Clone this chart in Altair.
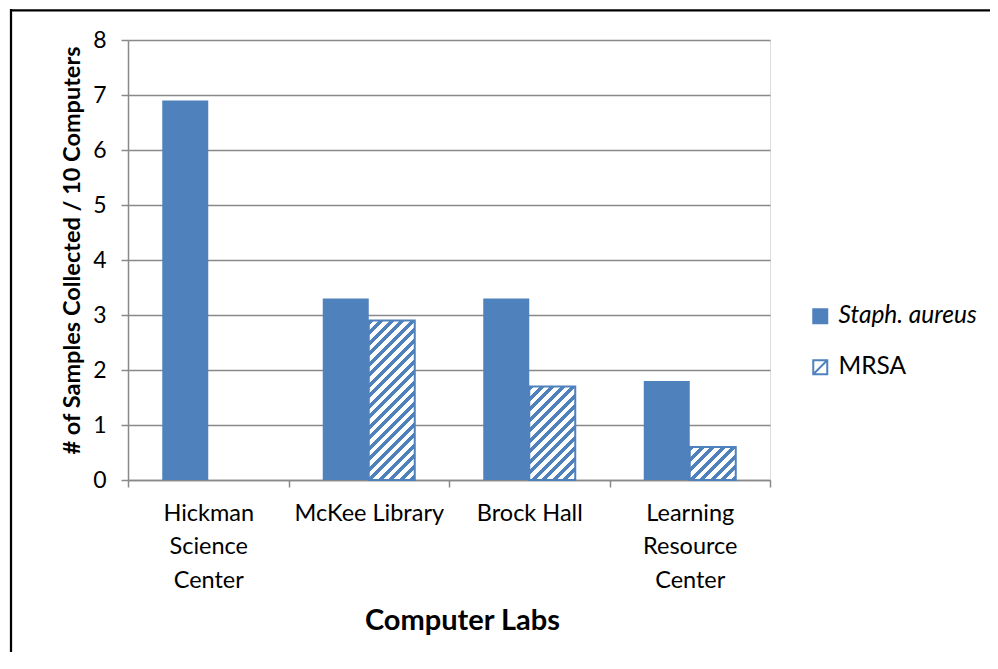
import altair as alt
import pandas as pd

labs = ["Hickman Science Center", "McKee Library", "Brock Hall", "Learning Resource Center"]
series = ["Staph. aureus", "MRSA"]
staph = [6.9, 3.3, 3.3, 1.8]
mrsa = [0.0, 2.9, 1.7, 0.6]
y_ticks = [0, 1, 2, 3, 4, 5, 6, 7, 8]

rows = []
for lab, s, m in zip(labs, staph, mrsa):
    rows.append({"lab": lab, "series": series[0], "value": s})
    rows.append({"lab": lab, "series": series[1], "value": m})
df = pd.DataFrame(rows)

W, H = 642, 440
YMAX = 8
BAR_W = 46
step = W / len(labs)
po = (step / BAR_W - 2) / 2
BLUE = "#4F81BD"
GRAY = "#898989"
PERIOD = 10.5
FONT = "Lato"


def hatch(value):
    w = BAR_W
    h = value / YMAX * H
    L = w + h
    k = w * L / (w * w + h * h)
    half = PERIOD / 2
    stops = []
    j = 0
    while j * half < L:
        c = BLUE if j % 2 == 0 else "white"
        a = j * half / L
        b = min((j + 1) * half / L, 1)
        stops += [{"offset": a, "color": c}, {"offset": b, "color": c}]
        j += 1
    return {"gradient": "linear", "x1": 0, "y1": 0, "x2": k, "y2": k * h / w, "stops": stops}


x_enc = alt.X(
    "lab:N",
    scale=alt.Scale(domain=labs, paddingInner=0, paddingOuter=0, round=False),
    title="Computer Labs",
    axis=alt.Axis(
        labelAngle=0,
        labelFont=FONT,
        labelFontSize=23.5,
        labelColor="black",
        labelLineHeight=33.5,
        labelPadding=14,
        labelExpr="length(split(datum.label, ' ')) > 2 ? split(datum.label, ' ') : datum.label",
        tickBand="extent",
        tickSize=7,
        tickColor=GRAY,
        tickWidth=1.5,
        domainColor=GRAY,
        domainWidth=1.5,
        grid=False,
        titleFont=FONT,
        titleFontSize=29,
        titleFontWeight="bold",
        titleColor="black",
        titleX=334,
        titleY=140,
        titleBaseline="middle",
    ),
)
xo_enc = alt.XOffset(
    "series:N",
    scale=alt.Scale(domain=series, paddingInner=0, paddingOuter=po, round=False),
)
y_enc = alt.Y(
    "value:Q",
    scale=alt.Scale(domain=[0, YMAX], nice=False),
    title="# of Samples Collected / 10 Computers",
    axis=alt.Axis(
        values=y_ticks,
        labelFont=FONT,
        labelFontSize=23,
        labelColor="black",
        labelPadding=15,
        tickSize=7,
        tickColor=GRAY,
        tickWidth=1.5,
        domainColor=GRAY,
        domainWidth=1.5,
        grid=True,
        gridColor=GRAY,
        gridWidth=1.5,
        titleFont=FONT,
        titleFontSize=23.5,
        titleFontWeight="bold",
        titleColor="black",
        titleX=-56,
        titleY=210,
        titleBaseline="middle",
    ),
)

base = alt.Chart(df).mark_bar().encode(
    x=x_enc,
    xOffset=xo_enc,
    y=y_enc,
    color=alt.Color(
        "series:N",
        scale=alt.Scale(domain=series, range=[BLUE, "white"]),
        legend=alt.Legend(
            title=None,
            orient="none",
            legendX=680,
            legendY=264,
            padding=0,
            labelFont=FONT,
            labelFontSize=24.5,
            labelColor="black",
            labelFontStyle=alt.ExprRef("datum.value == 'MRSA' ? 'normal' : 'italic'"),
            labelOffset=6,
            rowPadding=26,
            symbolType=alt.ExprRef("datum.value == 'MRSA' ? 'M-1,-1H1V1H-1Z M-1,1L1,-1' : 'square'"),
            symbolSize=196,
            symbolStrokeColor=BLUE,
            symbolStrokeWidth=2,
            symbolOpacity=1,
        ),
    ),
)

layers = [base]
for lab, m in zip(labs, mrsa):
    if m > 0:
        layers.append(
            alt.Chart(df)
            .transform_filter(f"datum.series == 'MRSA' && datum.lab == '{lab}'")
            .mark_bar(fill=hatch(m), stroke=BLUE, strokeWidth=2)
            .encode(x=x_enc, xOffset=xo_enc, y=y_enc)
        )

one = pd.DataFrame({"a": [0]})
frame_top = alt.Chart(one).mark_rule(color="black", strokeWidth=2.25).encode(
    x=alt.value(-118), x2=alt.value(900), y=alt.value(-29.7)
)
frame_left = alt.Chart(one).mark_rule(color="black", strokeWidth=2.25).encode(
    x=alt.value(-117), y=alt.value(-31), y2=alt.value(700)
)
layers += [frame_top, frame_left]

chart = (
    alt.layer(*layers)
    .properties(
        width=W,
        height=H,
        autosize=alt.AutoSizeParams(type="none"),
        padding={"left": 120, "top": 32, "right": 220, "bottom": 172},
        background="white",
    )
    .configure_view(stroke=None)
    .configure(font=FONT)
)

chart.save("out.html", embed_options={"renderer": "svg", "actions": False})
